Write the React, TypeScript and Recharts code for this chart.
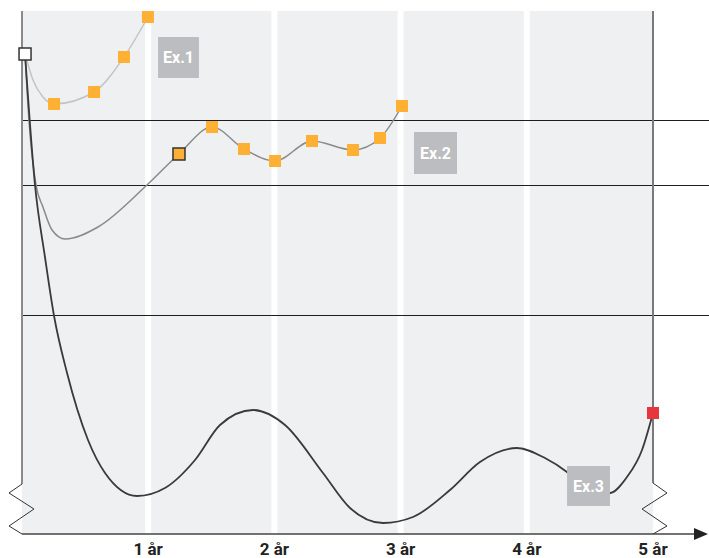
import React from "react";
import {
  ComposedChart,
  Line,
  XAxis,
  YAxis,
  ReferenceArea,
  ReferenceLine,
  ReferenceDot,
} from "recharts";

// x in years, y in value units (0 = baseline, 523 = top of panel)
const yearTicks = [1, 2, 3, 4, 5];
const tickLabels = ["1 år", "2 år", "3 år", "4 år", "5 år"];
const levelLines = [413.5, 348.5, 218.5];

const startPoint = { x: 0.024, y: 480 };
const endPoint = { x: 5.0, y: 121 };

// m: 1 = orange marker, 2 = outlined orange marker
const ex1Points = [
  { x: 0.024, y: 480, m: 0 },
  { x: 0.087, y: 454, m: 0 },
  { x: 0.166, y: 437, m: 0 },
  { x: 0.254, y: 430, m: 1 },
  { x: 0.571, y: 442, m: 1 },
  { x: 0.808, y: 477, m: 1 },
  { x: 0.998, y: 517, m: 1 },
];

const ex2Points = [
  { x: 0.024, y: 480, m: 0 },
  { x: 0.055, y: 414, m: 0 },
  { x: 0.111, y: 349, m: 0 },
  { x: 0.166, y: 327, m: 0 },
  { x: 0.238, y: 304, m: 0 },
  { x: 0.341, y: 295, m: 0 },
  { x: 0.602, y: 307, m: 0 },
  { x: 0.99, y: 349, m: 0 },
  { x: 1.244, y: 380, m: 2 },
  { x: 1.506, y: 407, m: 1 },
  { x: 1.759, y: 385, m: 1 },
  { x: 2.005, y: 373, m: 1 },
  { x: 2.298, y: 393, m: 1 },
  { x: 2.623, y: 384, m: 1 },
  { x: 2.837, y: 396, m: 1 },
  { x: 3.011, y: 428, m: 1 },
];

const ex3Points = [
  { x: 0.024, y: 480 },
  { x: 0.103, y: 349 },
  { x: 0.182, y: 277 },
  { x: 0.254, y: 218 },
  { x: 0.357, y: 161 },
  { x: 0.523, y: 94 },
  { x: 0.658, y: 61 },
  { x: 0.911, y: 38 },
  { x: 1.133, y: 46 },
  { x: 1.371, y: 74 },
  { x: 1.569, y: 109 },
  { x: 1.83, y: 124 },
  { x: 2.084, y: 109 },
  { x: 2.385, y: 61 },
  { x: 2.599, y: 26 },
  { x: 2.861, y: 11 },
  { x: 3.098, y: 17 },
  { x: 3.391, y: 44 },
  { x: 3.629, y: 72 },
  { x: 3.922, y: 86 },
  { x: 4.144, y: 76 },
  { x: 4.318, y: 62 },
  { x: 4.501, y: 40 },
  { x: 4.659, y: 41 },
  { x: 4.794, y: 57 },
  { x: 4.913, y: 84 },
  { x: 5.0, y: 121 },
];

const exLabels = [
  { text: "Ex.1", x1: 1.078, x2: 1.402, y1: 456, y2: 497 },
  { text: "Ex.2", x1: 3.106, x2: 3.447, y1: 360, y2: 402 },
  { text: "Ex.3", x1: 4.319, x2: 4.659, y1: 28, y2: 68 },
];

const leftBreak = [
  { x: 0, y: 50 },
  { x: -0.103, y: 41 },
  { x: 0.095, y: 25 },
  { x: -0.103, y: 8 },
  { x: 0, y: 0 },
];
const rightBreak = [
  { x: 5, y: 51 },
  { x: 5.111, y: 41 },
  { x: 4.913, y: 25 },
  { x: 5.111, y: 8 },
  { x: 5, y: 0 },
];

const ORANGE = "#fdb033";
const FONT = "Roboto, 'DejaVu Sans', sans-serif";

const squareDot = (props: any) => {
  const { cx, cy, payload, index } = props;
  if (!payload || !payload.m || cx == null || cy == null) {
    return <g key={`d-${index}`} />;
  }
  return (
    <rect
      key={`d-${index}`}
      x={cx - 6}
      y={cy - 6}
      width={12}
      height={12}
      fill={ORANGE}
      stroke={payload.m === 2 ? "#333" : "none"}
      strokeWidth={payload.m === 2 ? 1.5 : 0}
    />
  );
};

const segs = (pts: { x: number; y: number }[]) =>
  pts.slice(1).map((p, i) => [pts[i], p]);

export default function App() {
  return (
    <div style={{ position: "absolute", left: 0, top: 0, width: 709, height: 558 }}>
      <ComposedChart
        width={709}
        height={558}
        margin={{ top: 11, right: 56, bottom: 0, left: 22 }}
      >
        <XAxis
          type="number"
          dataKey="x"
          domain={[0, 5]}
          ticks={yearTicks}
          tickFormatter={(v: number) => tickLabels[yearTicks.indexOf(v)]}
          axisLine={false}
          tickLine={false}
          tickMargin={3}
          height={24}
          allowDuplicatedCategory={false}
          tick={{ fill: "#222", fontSize: 17, fontWeight: 700, fontFamily: FONT }}
          interval={0}
        />
        <YAxis type="number" dataKey="y" domain={[0, 523]} hide />

        <ReferenceArea
          x1={0}
          x2={5}
          y1={0}
          y2={523}
          fill="#eff0f2"
          fillOpacity={1}
          stroke="none"
          zIndex={-300}
        />
        {[1, 2, 3, 4].map((t) => (
          <ReferenceLine key={`w${t}`} x={t} stroke="#ffffff" strokeWidth={6} zIndex={-250} />
        ))}
        {levelLines.map((v) => (
          <ReferenceLine
            key={`h${v}`}
            segment={[
              { x: 0, y: v },
              { x: 5.444, y: v },
            ]}
            ifOverflow="visible"
            stroke="#1e1e1e"
            strokeWidth={1.2}
            zIndex={-200}
          />
        ))}

        <Line
          data={ex1Points}
          dataKey="y"
          type="monotone"
          stroke="#c4c4c4"
          strokeWidth={1.5}
          dot={squareDot}
          activeDot={false}
          isAnimationActive={false}
        />
        <Line
          data={ex2Points}
          dataKey="y"
          type="monotone"
          stroke="#8a8a8a"
          strokeWidth={1.5}
          dot={squareDot}
          activeDot={false}
          isAnimationActive={false}
        />
        <Line
          data={ex3Points}
          dataKey="y"
          type="monotone"
          stroke="#3a3a3a"
          strokeWidth={1.8}
          dot={false}
          activeDot={false}
          isAnimationActive={false}
        />

        {exLabels.map((l) => (
          <ReferenceArea
            key={l.text}
            x1={l.x1}
            x2={l.x2}
            y1={l.y1}
            y2={l.y2}
            fill="#bcbdc0"
            fillOpacity={1}
            stroke="none"
            zIndex={1500}
            label={{
              value: l.text,
              position: "center",
              fill: "#ffffff",
              fontSize: 16,
              fontWeight: 700,
              fontFamily: FONT,
            }}
          />
        ))}

        <ReferenceLine
          segment={[
            { x: 0, y: 50 },
            { x: 0, y: 523 },
          ]}
          ifOverflow="visible"
          stroke="#8a8a8a"
          strokeWidth={2}
          zIndex={1600}
        />
        <ReferenceLine
          segment={[
            { x: 5, y: 51 },
            { x: 5, y: 523 },
          ]}
          ifOverflow="visible"
          stroke="#7a7a7a"
          strokeWidth={2}
          zIndex={1600}
        />
        {segs(leftBreak).map((s, i) => (
          <ReferenceLine
            key={`lb${i}`}
            segment={s}
            ifOverflow="visible"
            stroke="#333"
            strokeWidth={1}
            zIndex={1600}
          />
        ))}
        {segs(rightBreak).map((s, i) => (
          <ReferenceLine
            key={`rb${i}`}
            segment={s}
            ifOverflow="visible"
            stroke="#333"
            strokeWidth={1}
            zIndex={1600}
          />
        ))}
        <ReferenceLine
          segment={[
            { x: 0, y: 0 },
            { x: 5.34, y: 0 },
          ]}
          ifOverflow="visible"
          stroke="#444"
          strokeWidth={1.6}
          zIndex={1600}
        />
        <ReferenceDot
          x={5.436}
          y={0}
          r={6}
          ifOverflow="visible"
          zIndex={1600}
          shape={(p: any) => (
            <polygon
              points={`${p.cx - 14},${p.cy - 6} ${p.cx},${p.cy} ${p.cx - 14},${p.cy + 6}`}
              fill="#222"
            />
          )}
        />

        <ReferenceDot
          x={startPoint.x}
          y={startPoint.y}
          r={6}
          ifOverflow="visible"
          zIndex={1700}
          shape={(p: any) => (
            <rect x={p.cx - 6} y={p.cy - 6} width={12} height={12} fill="#fff" stroke="#333" strokeWidth={1.5} />
          )}
        />
        <ReferenceDot
          x={endPoint.x}
          y={endPoint.y}
          r={6}
          ifOverflow="visible"
          zIndex={1700}
          shape={(p: any) => (
            <rect x={p.cx - 6} y={p.cy - 6} width={12} height={12} fill="#e8363f" />
          )}
        />
      </ComposedChart>
    </div>
  );
}
